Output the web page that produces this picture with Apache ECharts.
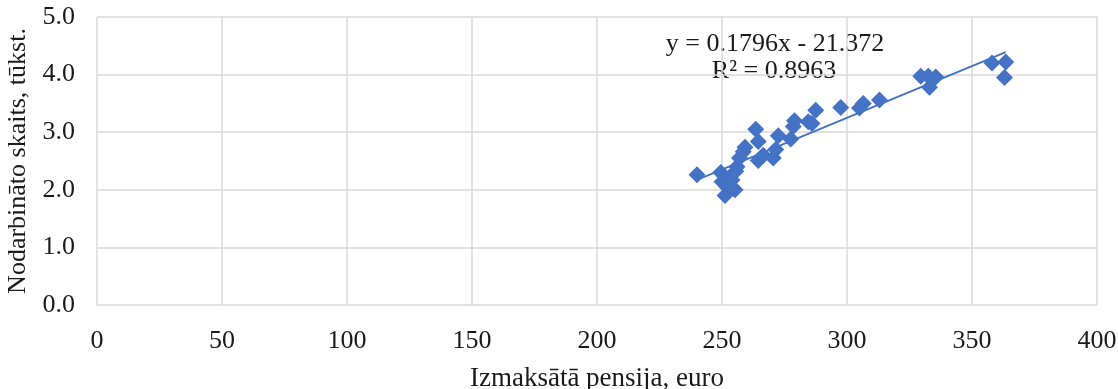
<!DOCTYPE html>
<html>
<head>
<meta charset="utf-8">
<script src="https://cdn.jsdelivr.net/npm/echarts@6/dist/echarts.min.js"></script>
<style>
  html, body { margin: 0; padding: 0; background: #fff; }
  #chart { width: 1118px; height: 389px; }
</style>
</head>
<body>
<div id="chart"></div>
<script>
// Pension paid (euro) vs employed persons (thousands)
const pensionEuro = [
  240.0, 249.5, 250.0, 251.2, 252.0, 253.0, 254.0, 255.2, 255.5, 256.0,
  257.0, 258.5, 259.2, 263.5, 264.5, 264.5, 266.5, 270.5, 271.5, 272.5,
  277.5, 278.5, 279.0, 284.5, 286.0, 287.5, 297.5, 305.0, 306.5, 313.0,
  329.5, 332.5, 333.0, 335.5, 358.0, 363.5, 363.0
];
const employedThousands = [
  2.26, 2.30, 2.14, 1.90, 2.05, 2.22, 2.17, 2.00, 2.32, 2.40,
  2.55, 2.66, 2.74, 3.05, 2.84, 2.51, 2.60, 2.55, 2.70, 2.94,
  2.88, 3.10, 3.20, 3.18, 3.15, 3.38, 3.43, 3.42, 3.50, 3.56,
  3.97, 3.97, 3.78, 3.96, 4.20, 4.22, 3.95
];

// Linear trend as printed (y in hundreds of persons -> divide by 10 for thousands)
const trendSlope = 0.1796;
const trendIntercept = -21.372;
const trendR2 = 0.8963;

const xTicks = [0, 50, 100, 150, 200, 250, 300, 350, 400];
const yTicks = [0, 1, 2, 3, 4, 5];

const points = pensionEuro.map((x, i) => [x, employedThousands[i]]);
const xMin = Math.min(...pensionEuro);
const xMax = Math.max(...pensionEuro);
const trendAt = x => (trendSlope * x + trendIntercept) / 10;
const trendLine = [[xMin, trendAt(xMin)], [xMax, trendAt(xMax)]];

const FONT = '"Liberation Serif", "Times New Roman", serif';
const TEXT = '#1a1a1a';
const GRID = '#d9d9d9';

const chart = echarts.init(document.getElementById('chart'), null, { renderer: 'canvas' });
chart.setOption({
  animation: false,
  backgroundColor: '#fff',
  grid: {
    left: 97, right: 21, top: 17, bottom: 84,
    containLabel: false, outerBoundsMode: 'none'
  },
  xAxis: {
    type: 'value',
    min: xTicks[0], max: xTicks[xTicks.length - 1], interval: 50,
    name: 'Izmaksātā pensija, euro',
    nameLocation: 'middle', nameGap: 60,
    nameTextStyle: { fontFamily: FONT, fontSize: 27, color: TEXT },
    axisLine: { show: false },
    axisTick: { show: false },
    axisLabel: { margin: 23, fontFamily: FONT, fontSize: 26, color: TEXT },
    splitLine: { show: true, lineStyle: { color: GRID, width: 1.5 } }
  },
  yAxis: {
    type: 'value',
    min: yTicks[0], max: yTicks[yTicks.length - 1], interval: 1,
    name: 'Nodarbināto skaits, tūkst.',
    nameLocation: 'middle', nameGap: 59,
    nameTextStyle: { fontFamily: FONT, fontSize: 26, color: TEXT },
    axisLine: { show: false },
    axisTick: { show: false },
    axisLabel: {
      margin: 22, fontFamily: FONT, fontSize: 26, color: TEXT,
      formatter: v => v.toFixed(1)
    },
    splitLine: { show: true, lineStyle: { color: GRID, width: 1.5 } }
  },
  series: [
    {
      type: 'line',
      data: trendLine,
      symbol: 'none',
      lineStyle: { color: '#4472C4', width: 2 },
      z: 3
    },
    {
      type: 'scatter',
      data: points,
      symbol: 'diamond',
      symbolSize: 17,
      itemStyle: { color: '#4472C4', opacity: 1 },
      z: 2
    }
  ],
  graphic: [
    {
      type: 'text', x: 775, y: 44,
      style: {
        text: 'y = ' + trendSlope + 'x - ' + Math.abs(trendIntercept).toFixed(3),
        font: '26px ' + FONT, fill: TEXT, align: 'center', verticalAlign: 'middle'
      }
    },
    {
      type: 'text', x: 774, y: 71,
      style: {
        text: 'R² = ' + trendR2,
        font: '26px ' + FONT, fill: TEXT, align: 'center', verticalAlign: 'middle'
      }
    }
  ]
});
</script>
</body>
</html>
